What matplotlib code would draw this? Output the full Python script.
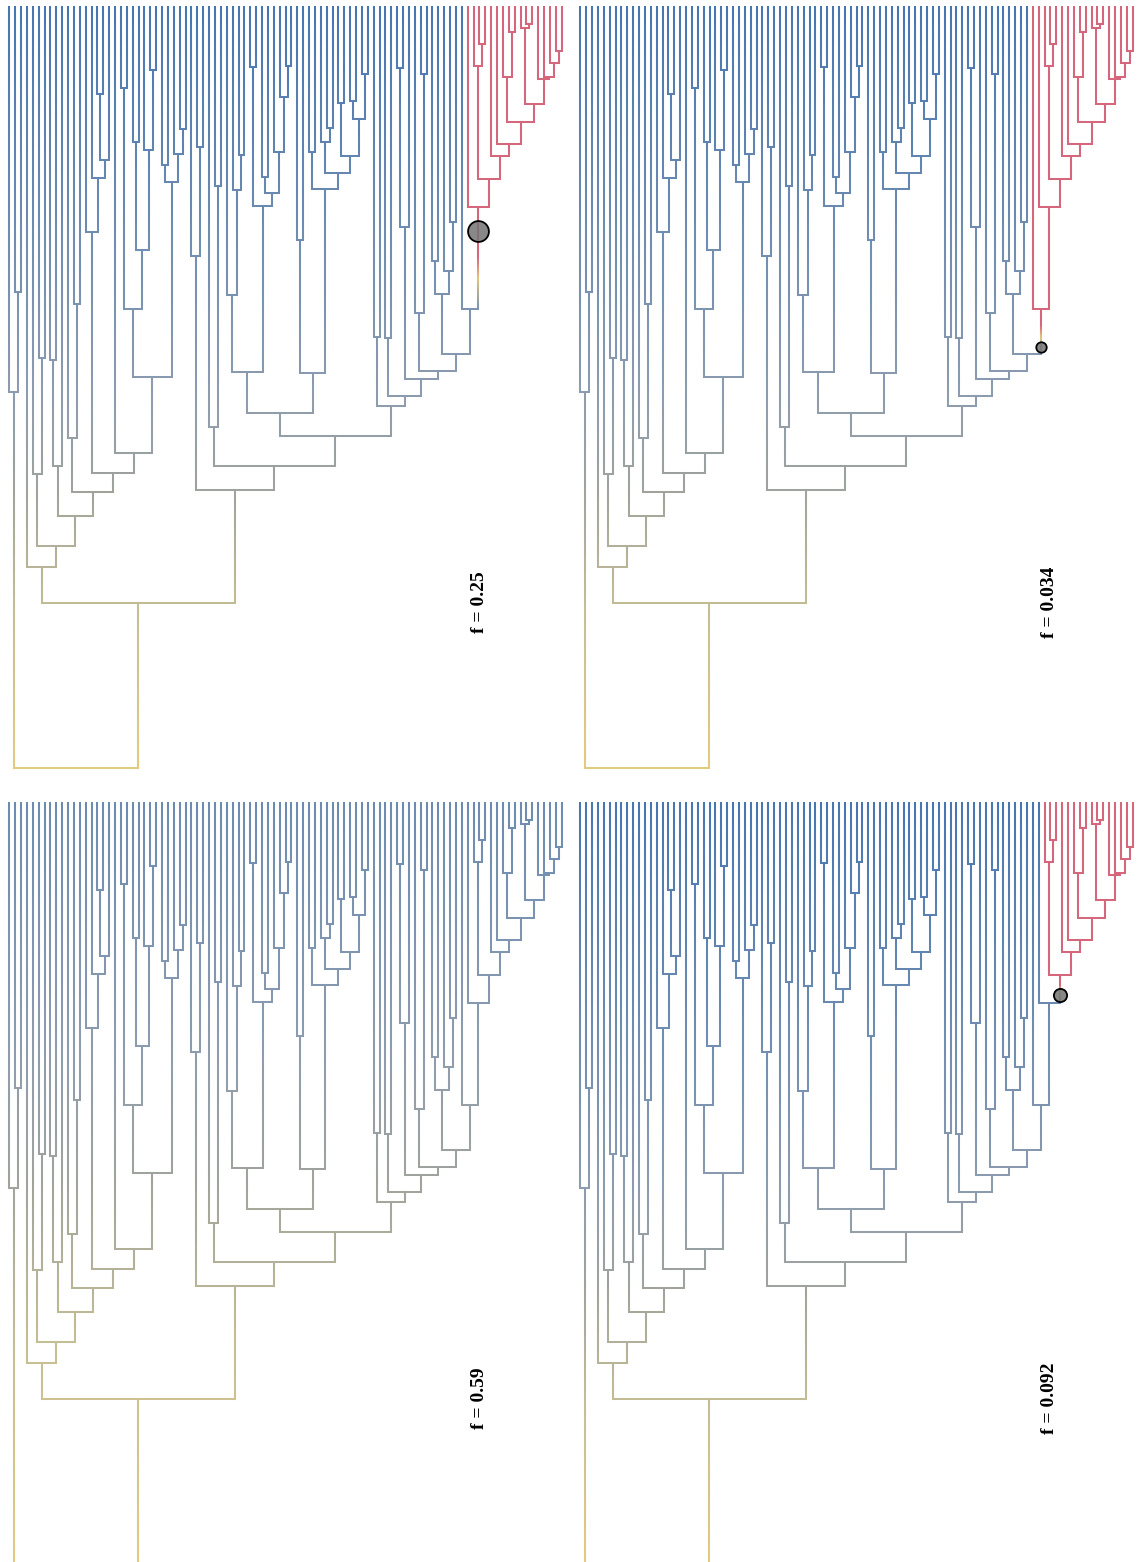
import numpy as np
import matplotlib
matplotlib.use("Agg")
import matplotlib.pyplot as plt
from matplotlib.collections import LineCollection
from matplotlib.colors import to_rgb, LinearSegmentedColormap

# ---------------------------------------------------------------- DATA
N_TIPS = 95
TIP_Y = 7.0        # depth of the tips (px from panel top)
ROOT_Y = 768.0     # depth of the root

# internal nodes: name, left child, right child, depth
NODES = [
    ("a1", 1, 2, 291.7), ("A", 0, "a1", 391.7),
    ("l3a", 5, 6, 358.3), ("L3", 4, "l3a", 474.3),
    ("l4a", 7, 8, 360.0), ("l4b", "l4a", 9, 466.0),
    ("l5a", 11, 12, 304.0), ("l5b", 10, "l5a", 437.7),
    ("b1", 15, 16, 94.3), ("b2", "b1", 17, 160.0), ("b3", 14, "b2", 177.7), ("B", 13, "b3", 232.3),
    ("c1", 19, 20, 87.7), ("c2", 21, 22, 141.7), ("c3", 24, 25, 70.0), ("c4", 23, "c3", 150.0),
    ("c5", "c2", "c4", 250.0), ("C", "c1", "c5", 309.3),
    ("d1", 26, 27, 165.0), ("d2", 29, 30, 129.0), ("d3", 28, "d2", 154.0), ("D", "d1", "d3", 181.7),
    ("L8", "C", "D", 376.7), ("L7", 18, "L8", 452.7), ("L6", "B", "L7", 472.7),
    ("L5", "l5b", "L6", 492.0), ("L4", "l4b", "L5", 516.0), ("L2", "L3", "L4", 545.7),
    ("L1", 3, "L2", 566.7),
    ("e1", 32, 33, 146.7), ("E1", 31, "e1", 255.7),
    ("e2", 35, 36, 185.7), ("E2", 34, "e2", 426.7),
    ("g1", 39, 40, 155.0), ("g2", 38, "g1", 190.0), ("g3", 37, "g2", 295.0),
    ("g4", 41, 42, 66.7), ("g5", 43, 44, 176.7), ("g6", 47, 48, 65.7), ("g7", 46, "g6", 96.7),
    ("g8", 45, "g7", 151.7), ("g9", "g5", "g8", 192.7), ("g10", "g4", "g9", 205.7),
    ("G", "g3", "g10", 371.7),
    ("h1", 49, 50, 240.0), ("h2", 51, 52, 151.7), ("h3", 54, 55, 128.3), ("h4", 53, "h3", 141.7),
    ("h5", 56, 57, 102.7), ("h6", 58, 59, 100.7), ("h7", 60, 61, 74.0), ("h8", "h6", "h7", 119.3),
    ("h9", "h5", "h8", 155.7), ("h10", "h4", "h9", 173.3), ("h11", "h2", "h10", 189.0),
    ("H", "h1", "h11", 373.3),
    ("GH", "G", "H", 413.3),
    ("f1", 62, 63, 336.7), ("f2", 64, 65, 338.3), ("f3", 66, 67, 68.3), ("f4", "f3", 68, 226.7),
    ("f5", 70, 71, 74.0), ("f6", 69, "f5", 313.3),
    ("f7", 72, 73, 261.0), ("f8", 75, 76, 222.3), ("f9", 74, "f8", 270.7), ("f10", "f7", "f9", 294.0),
    ("r1", 80, 81, 44.0), ("r2", 79, "r1", 65.7),
    ("r3", 85, 86, 31.7), ("r4", 84, "r3", 77.3),
    ("r5", 88, 89, 24.0), ("r6", 87, "r5", 28.3),
    ("r7", 93, 94, 50.7), ("r8", 92, "r7", 63.3), ("r9", 91, "r8", 76.7), ("r10", 90, "r9", 79.0),
    ("r11", "r6", "r10", 104.3), ("r12", "r4", "r11", 122.3), ("r13", 83, "r12", 144.0),
    ("r14", 82, "r13", 156.0), ("r15", "r2", "r14", 179.3),
    ("R0", 78, "r15", 207.3), ("R1", 77, "R0", 309.3),
    ("f11", "f10", "R1", 354.0), ("f12", "f6", "f11", 371.0), ("f13", "f4", "f12", 379.0),
    ("f14", "f2", "f13", 396.0), ("F", "f1", "f14", 406.0),
    ("EF", "GH", "F", 436.0), ("N466", "E2", "EF", 466.0), ("N490", "E1", "N466", 490.0),
    ("R", "L1", "N490", 602.7), ("root", "A", "R", ROOT_Y),
]

# one entry per panel: top-left, top-right, bottom-left, bottom-right
LABELS = ["f = 0.25", "f = 0.034", "f = 0.59", "f = 0.092"]
SHIFT_NODE = ["R0", "R1", None, "r15"]      # clade with the shifted rate
SHIFT_MARK_Y = [230.7, 346.7, None, 199.3]  # where the marker sits on its stem
MARK_SIZE = [15.0, 7.5, None, 9.5]
TIP_BLEND = [0.0, 0.0, 0.28, 0.0]           # how far the tips have drifted towards the root colour
# red -> yellow -> base transition on the shifted stem (end of red, yellow point)
STEM_FADE = [(258, 280), (326, 338), None, (190, 198)]

# ---------------------------------------------------------------- COLOURS
DEPTH_CMAP = LinearSegmentedColormap.from_list(
    "depth",
    [(0.0, "#4676b2"), (0.5, "#8b9bb0"), (0.64, "#a0a39c"),
     (0.8, "#c6bf94"), (1.0, "#e4ca7e")])
YELLOW = np.array(to_rgb("#e2c77c"))
RED = np.array(to_rgb("#d6667b"))

height = {i: TIP_Y for i in range(N_TIPS)}
xpos = {i: float(i) for i in range(N_TIPS)}
children = {}
parent = {}
for name, a, b, h in NODES:
    height[name] = h
    xpos[name] = (xpos[a] + xpos[b]) / 2
    children[name] = (a, b)
    parent[a] = name
    parent[b] = name


def descendants(n):
    out = {n}
    for c in children.get(n, ()):
        out |= descendants(c)
    return out


def base_color(y, t0):
    s = np.clip((y - TIP_Y) / (ROOT_Y - TIP_Y), 0, 1)
    return np.array(DEPTH_CMAP(t0 + (1 - t0) * s)[:3])


def stem_color(y, y_bot, fade, t0):
    r_end, y_yel = fade
    if y <= r_end:
        return RED
    if y <= y_yel:
        u = (y - r_end) / (y_yel - r_end)
        return RED * (1 - u) + YELLOW * u
    u = (y - y_yel) / max(y_bot - y_yel, 1e-6)
    return YELLOW * (1 - u) + base_color(y_bot, t0) * u


W, H = 1137, 1562
PW, PH = 572, 796
OFFSETS = [(0, 0), (571, 0), (0, 796), (571, 796)]
TIP0_PX, TIP_STEP_PX = 9.3, 5.877

fig = plt.figure(figsize=(W / 100, H / 100), dpi=100)

for k in range(4):
    ox, oy = OFFSETS[k]
    ax = fig.add_axes([ox / W, 1 - (oy + PH) / H, PW / W, PH / H])
    ax.set_xlim(-TIP0_PX / TIP_STEP_PX, (PW - TIP0_PX) / TIP_STEP_PX)
    ax.set_ylim(PH, 0)
    ax.axis("off")

    t0 = TIP_BLEND[k]
    red = descendants(SHIFT_NODE[k]) if SHIFT_NODE[k] else set()

    segs, cols = [], []
    # vertical branches
    for n, p in parent.items():
        x = xpos[n]
        y_top, y_bot = height[n], height[p]
        ys = np.linspace(y_top, y_bot, max(int((y_bot - y_top) / 2), 1) + 1)
        for y1, y2 in zip(ys[:-1], ys[1:]):
            ym = (y1 + y2) / 2
            if n == SHIFT_NODE[k]:
                c = stem_color(ym, y_bot, STEM_FADE[k], t0)
            elif n in red:
                c = RED
            else:
                c = base_color(ym, t0)
            segs.append([(x, y1), (x, y2)])
            cols.append(c)
    # horizontal connectors
    for n, (a, b) in children.items():
        c = RED if n in red else base_color(height[n], t0)
        segs.append([(xpos[a], height[n]), (xpos[b], height[n])])
        cols.append(c)

    lc = LineCollection(segs, colors=cols, linewidths=1.45, capstyle="projecting")
    ax.add_collection(lc)

    if SHIFT_NODE[k]:
        ax.plot(xpos[SHIFT_NODE[k]], SHIFT_MARK_Y[k], "o", ms=MARK_SIZE[k],
                mfc=(0.45, 0.45, 0.45, 0.85), mec="black", mew=1.3, zorder=5)

    ax.text(479 / PW, 1 - 602 / PH, LABELS[k], transform=ax.transAxes, rotation=90,
            ha="center", va="center", fontsize=14, fontweight="bold",
            family="Liberation Serif")

fig.savefig("out.png", dpi=100)
